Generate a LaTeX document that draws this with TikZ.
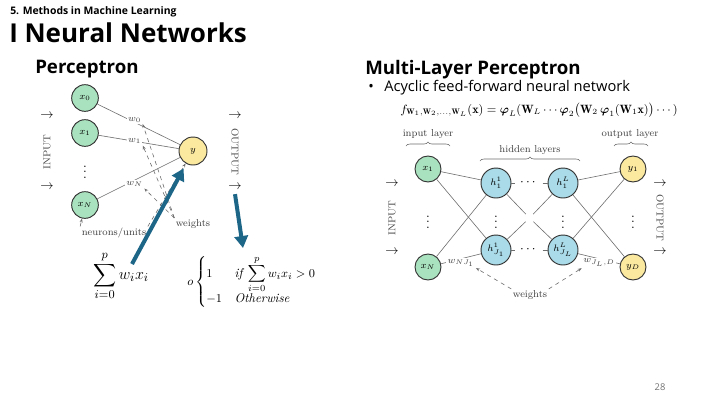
\documentclass[tikz,border=0pt]{standalone}
\usepackage{fontspec}
\usepackage{amsmath}
\usepackage{tikz}
\usetikzlibrary{positioning,arrows.meta,decorations.pathreplacing,calc}
\newfontfamily\slidefont{Open Sans}
\definecolor{nodegreen}{HTML}{A9E2BE}
\definecolor{nodeyellow}{HTML}{FBE9A0}
\definecolor{nodeblue}{HTML}{A9DBE8}
\definecolor{slideblue}{HTML}{1D6688}
\definecolor{edgegray}{HTML}{6E6E6E}

\tikzset{
  unit/.style={circle, draw=black!80, line width=0.7pt, minimum size=19.5pt, inner sep=0pt, font=\fontsize{7.5}{9}\selectfont},
  hunit/.style={unit, minimum size=22.5pt, fill=nodeblue},
  edge/.style={draw=edgegray, line width=0.45pt},
  wlabel/.style={fill=white, inner sep=1pt, font=\fontsize{7}{8}\selectfont, text=black!75},
  pointer/.style={draw=edgegray, dashed, line width=0.45pt, -{Stealth[length=3pt]}},
  bigarrow/.style={draw=slideblue, line width=3pt, -{Triangle[length=9pt,width=10pt]}},
  cmtext/.style={font=\fontsize{7.5}{9}\selectfont, text=black!75, inner sep=1pt},
  slidetext/.style={anchor=west, inner sep=0pt},
  brace/.style={decorate, decoration={brace, amplitude=3pt}, draw=edgegray, line width=0.45pt},
}

\begin{document}
\begin{tikzpicture}[x=0.75pt, y=-0.75pt]
    \useasboundingbox (0,0) rectangle (720,405);
    \fill[white] (0,0) rectangle (720,405);

    % slide headings
    \node[slidetext, font=\slidefont\bfseries\fontsize{7.8}{9}\selectfont] (sec) at (10,12) {5. Methods in Machine Learning};
    \node[slidetext, font=\slidefont\bfseries\fontsize{19.5}{23}\selectfont] (title) at (9,33) {I Neural Networks};
    \node[slidetext, font=\slidefont\bfseries\fontsize{14}{16}\selectfont] (ptitle) at (35,69) {Perceptron};
    \node[slidetext, font=\slidefont\bfseries\fontsize{14}{16}\selectfont] (mtitle) at (365,70) {Multi-Layer Perceptron};
    \node[slidetext, font=\slidefont\fontsize{11}{13}\selectfont] (bul) at (368,88) {•};
    \node[slidetext, font=\slidefont\fontsize{11}{13}\selectfont] (btext) at (384,88) {Acyclic feed-forward neural network};
    \node[font=\slidefont\fontsize{7}{8}\selectfont, text=black!55] (pnum) at (660,387) {28};

    % perceptron
    \node[unit, fill=nodegreen, minimum size=20pt] (p0) at (85,98) {$x_0$};
    \node[unit, fill=nodegreen, minimum size=20pt] (p1) at (85,133) {$x_1$};
    \node[unit, fill=nodegreen, minimum size=20pt] (pN) at (85,205) {$x_N$};
    \node (pvd) at (85,168) {$\vdots$};
    \node[unit, fill=nodeyellow, minimum size=21pt] (py) at (193,151) {$y$};
    \draw[edge] (p0) -- node[wlabel, pos=0.45, yshift=2pt] (w0) {$w_0$} (py);
    \draw[edge] (p1) -- node[wlabel, pos=0.45] (w1) {$w_1$} (py);
    \draw[edge] (pN) -- node[wlabel, pos=0.45, yshift=-3pt] (wN) {$w_N$} (py);
    \node[cmtext, rotate=90] (pin) at (47,152) {INPUT};
    \node (parr1) at (47,116) {$\rightarrow$};
    \node (parr2) at (47,187) {$\rightarrow$};
    \node[cmtext, rotate=-90] (pout) at (235,152) {OUTPUT};
    \node (parr3) at (235,116) {$\rightarrow$};
    \node (parr4) at (235,187) {$\rightarrow$};
    \node[cmtext] (wts1) at (193,224) {weights};
    \node[cmtext] (units) at (114,233) {neurons/units};
    \foreach \w in {w0,w1,wN}
        \draw[pointer] (wts1.north west) -- (\w.south east);
    \draw[pointer] (units.north west) -- (pN);
    \draw[pointer] (units.north east) -- (py);

    % output rule
    \node[font=\fontsize{12.5}{15}\selectfont, inner sep=0pt] (sumf) at (121,276) {$\displaystyle\sum_{i=0}^{p} w_i x_i$};
    \node[font=\fontsize{9.5}{11}\selectfont, inner sep=0pt] (casef) at (252,282) {$o\begin{cases} 1 & \mathit{if}\;\displaystyle\sum_{i=0}^{p} w_i x_i > 0\\[-2pt] -1 & \mathit{Otherwise}\end{cases}$};
    \coordinate (sumtail) at (132,264);
    \coordinate (casetop) at (243,248);
    \draw[bigarrow, shorten >=4pt] (sumtail) -- (py);
    \draw[bigarrow] (parr4.south) -- (casetop);

    % multi-layer perceptron
    \node[font=\fontsize{9}{11}\selectfont] (mlpf) at (539,110) {$f_{\mathbf{W}_1,\mathbf{W}_2,\ldots,\mathbf{W}_L}(\mathbf{x}) = \boldsymbol{\varphi}_L(\mathbf{W}_L\cdots\boldsymbol{\varphi}_2\big(\mathbf{W}_2\,\boldsymbol{\varphi}_1(\mathbf{W}_1\mathbf{x})\big)\cdots)$};
    \node[unit, fill=nodegreen] (x1) at (428,169) {$x_1$};
    \node[unit, fill=nodegreen] (xN) at (428,267) {$x_N$};
    \node[hunit] (h11) at (496,183) {$h_1^1$};
    \node[hunit] (hL1) at (563,183) {$h_1^L$};
    \node[hunit] (hJ1) at (496,250) {$h_{J_1}^1$};
    \node[hunit] (hJL) at (563,250) {$h_{J_L}^L$};
    \node[unit, fill=nodeyellow] (y1) at (633,169) {$y_1$};
    \node[unit, fill=nodeyellow] (yD) at (633,267) {$y_D$};
    \foreach \x in {428,496,563,633}
        \node (vd\x) at (\x,218) {$\vdots$};
    \node (hd1) at (529,183) {$\cdots$};
    \node (hd2) at (529,250) {$\cdots$};
    \coordinate (mid) at (529.5,218);

    \draw[edge] (x1) -- (h11);
    \draw[edge] (x1) -- (hJ1);
    \draw[edge] (xN) -- (h11);
    \draw[edge] (xN) -- node[wlabel, yshift=-3pt] (wnj) {$w_{NJ_1}$} (hJ1);
    \draw[edge] (h11) -- (hd1) -- (hL1);
    \draw[edge] (hJ1) -- (hd2) -- (hJL);
    \foreach \h in {h11,hL1,hJ1,hJL}
        \draw[edge, shorten >=4pt] (\h) -- (mid);
    \draw[edge] (hL1) -- (y1);
    \draw[edge] (hL1) -- (yD);
    \draw[edge] (hJL) -- (y1);
    \draw[edge] (hJL) -- node[wlabel, yshift=-3pt] (wjd) {$w_{J_L,D}$} (yD);

    \node[cmtext] (inl) at (428,134) {input layer};
    \node[cmtext] (hidl) at (530,150) {hidden layers};
    \node[cmtext] (outl) at (630,134) {output layer};
    \draw[brace] (406,146) -- (450,146);
    \draw[brace] (480,161) -- (580,161);
    \draw[brace] (614,146) -- (648,146);
    \node[cmtext, rotate=90] (min) at (392,218) {INPUT};
    \node (marr1) at (392,184) {$\rightarrow$};
    \node (marr2) at (392,252) {$\rightarrow$};
    \node[cmtext, rotate=-90] (mout) at (660,218) {OUTPUT};
    \node (marr3) at (660,184) {$\rightarrow$};
    \node (marr4) at (660,252) {$\rightarrow$};
    \node[cmtext] (wts2) at (530,295) {weights};
    \draw[pointer] (wts2.north west) -- (wnj.south east);
    \draw[pointer] (wts2.north east) -- (wjd.south west);
\end{tikzpicture}
\end{document}
